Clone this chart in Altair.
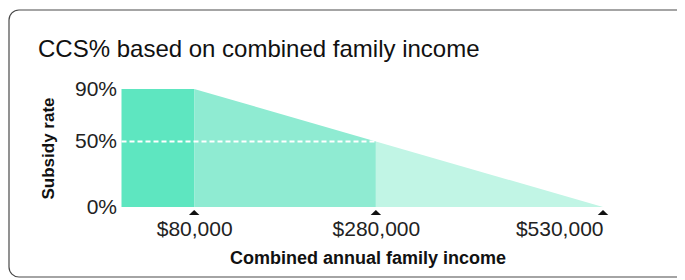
import altair as alt
import pandas as pd

# ---- data ----
income_points = [0, 80000, 280000, 530000]
rate_points = [90, 90, 50, 0]
segment_names = ["low", "middle", "high"]
segment_colors = ["#5ee6c0", "#8febd2", "#c1f5e5"]
tick_values = [80000, 280000, 530000]
rate_ticks = [0, 50, 90]
dash_rate = 50
dash_end = 280000
title_text = "CCS% based on combined family income"
x_title = "Combined annual family income"
y_title = "Subsidy rate"

# build the area table: each segment joins consecutive break points
rows = []
for i, name in enumerate(segment_names):
    for j in (i, i + 1):
        rows.append({"income": income_points[j], "rate": rate_points[j],
                     "base": 0, "segment": name, "fillc": segment_colors[i]})
area_df = pd.DataFrame(rows)
dash_df = pd.DataFrame({"start": [income_points[0]], "end": [dash_end], "rate": [dash_rate]})
tick_df = pd.DataFrame({"income": tick_values})
one_df = pd.DataFrame({"k": [0]})

FONT = "Liberation Sans"
W, H = 481.5, 118

x_scale = alt.Scale(domain=[income_points[0], income_points[-1]], nice=False, zero=False)
y_scale = alt.Scale(domain=[0, max(rate_points)], nice=False)

x_axis = alt.Axis(
    values=tick_values,
    labelExpr="'$' + format(datum.value, ',')",
    domain=False, ticks=False, grid=False,
    labelFont=FONT, labelFontSize=21, labelColor="#222222",
    labelPadding=11,
    title=x_title, titleFont=FONT, titleFontSize=18, titleFontWeight="bold",
    titleColor="#111111", titleBaseline="middle", titleY=51, titleX=246,
    titleAlign="center",
)
y_axis = alt.Axis(
    values=rate_ticks,
    labelExpr="datum.value + '%'",
    domain=False, ticks=False, grid=False,
    labelFont=FONT, labelFontSize=21, labelColor="#222222",
    labelPadding=5,
    title=y_title, titleFont=FONT, titleFontSize=17, titleFontWeight="bold",
    titleColor="#111111", titleX=-73.5, titleY=59, titleAngle=-90,
    titleBaseline="middle", titleAlign="center",
)

card = alt.Chart(one_df).mark_rect(
    fillOpacity=0, stroke="#4a4a4a", strokeWidth=1.2, cornerRadius=10
).encode(
    x=alt.value(-112.5), x2=alt.value(620), y=alt.value(-79), y2=alt.value(188)
)

areas = alt.Chart(area_df).mark_area(interpolate="linear", opacity=1, orient="vertical").encode(
    x=alt.X("income:Q", scale=x_scale, axis=x_axis),
    y=alt.Y("rate:Q", scale=y_scale, stack=None, axis=y_axis),
    y2="base:Q",
    fill=alt.Fill("fillc:N", scale=None),
    detail="segment:N",
)

dash = alt.Chart(dash_df).mark_rule(
    color="white", strokeWidth=2, strokeDash=[5, 3]
).encode(
    x=alt.X("start:Q", scale=x_scale),
    x2="end:Q",
    y=alt.Y("rate:Q", scale=y_scale),
)

ticks = alt.Chart(tick_df).mark_point(
    shape="M-1,0.5L0,-0.5L1,0.5Z", filled=True, color="#111111", opacity=1, size=110
).encode(
    x=alt.X("income:Q", scale=x_scale),
    y=alt.value(123.5),
)

title = alt.Chart(one_df).mark_text(
    text=title_text, font=FONT, fontSize=24, color="#111111",
    align="left", baseline="alphabetic",
).encode(x=alt.value(-83.5), y=alt.value(-32.5))

chart = alt.layer(card, areas, dash, ticks, title).properties(
    width=W, height=H,
    autosize=alt.AutoSizeParams(type="none"),
    padding={"left": 113.5, "top": 81, "right": 74, "bottom": 71},
    background="white",
).configure_view(stroke=None)

chart.save("out.html", embed_options={"renderer": "svg", "actions": False})
